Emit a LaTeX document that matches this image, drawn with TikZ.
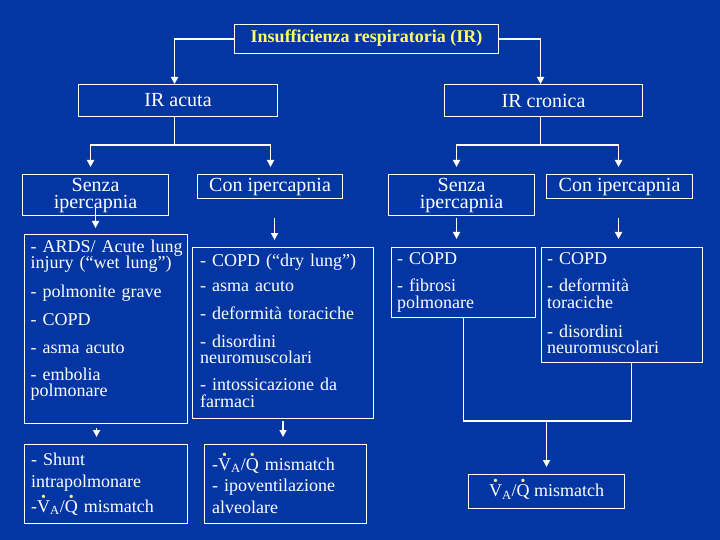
\documentclass[tikz,border=0pt]{standalone}
\usepackage{fontspec}
\setmainfont{Liberation Serif}
\usepackage{tikz}
\usetikzlibrary{arrows.meta,calc,positioning}
\definecolor{slideblue}{HTML}{0336A2}
\definecolor{titleyellow}{HTML}{FFFF66}
\definecolor{dotyellow}{HTML}{F2F28A}
\newcommand{\topdot}[1]{\leavevmode\ooalign{#1\cr\hidewidth\smash{\raisebox{11pt}{\textcolor{dotyellow}{\fontsize{14}{14}\selectfont\textbullet}}}\hidewidth\cr}}
\newcommand{\VQ}{\topdot{V}\textsubscript{A}/\topdot{Q}}

\begin{document}
\begin{tikzpicture}[x=1pt,y=-1pt,
    box/.style={draw=white,line width=1.1pt,inner sep=0pt,anchor=north west},
    head/.style={text=white,font=\fontsize{20}{17}\selectfont,align=center},
    list/.style={text=white,font=\fontsize{18}{16.5}\selectfont,text width=185pt,
      align=left,inner sep=0pt,anchor=base west},
    mech/.style={list,font=\fontsize{18}{22}\selectfont},
    wire/.style={white,line width=1.6pt},
    arr/.style={wire,-{Triangle[width=7pt,length=7pt]}}]
    \useasboundingbox (0,0) rectangle (720,540);
    \fill[slideblue] (0,0) rectangle (720,540);
    % headings
    \node[box,minimum width=264pt,minimum height=29pt,text=titleyellow,text depth=6pt,
      font=\bfseries\fontsize{18}{18}\selectfont] (ir) at (234,24) {Insufficienza respiratoria (IR)};
    \node[box,head,minimum width=199pt,minimum height=32pt] (acuta) at (78,84) {IR acuta};
    \node[box,head,minimum width=198pt,minimum height=32pt] (cronica) at (444,84) {IR cronica};
    \node[box,head,minimum width=146pt,minimum height=41pt] (senzaA) at (22,174) {Senza\\ipercapnia};
    \node[box,head,minimum width=145pt,minimum height=24pt] (conA) at (197,174) {Con ipercapnia};
    \node[box,head,minimum width=146pt,minimum height=41pt] (senzaC) at (388,174) {Senza\\ipercapnia};
    \node[box,head,minimum width=146pt,minimum height=24pt] (conC) at (546,174) {Con ipercapnia};
    % lists of causes
    \node[box,minimum width=163pt,minimum height=189pt] (listA1) at (24,234) {};
    \node[box,minimum width=181pt,minimum height=171pt] (listA2) at (192,247) {};
    \node[box,minimum width=144pt,minimum height=70pt] (listC1) at (391,247) {};
    \node[box,minimum width=161pt,minimum height=115pt] (listC2) at (541,247) {};
    \node[list] (tA1) at ($(listA1.north west)+(6.5,18)$) {- ARDS/ Acute lung\\injury (“wet lung”)\\[12pt]
      - polmonite grave\\[11.5pt] - COPD\\[11.5pt] - asma acuto\\[10.5pt] - embolia\\polmonare};
    \node[list] (tA2) at ($(listA2.north west)+(8,19)$) {- COPD (“dry lung”)\\[8.5pt]
      - asma acuto\\[11.5pt] - deformità toraciche\\[11.5pt] - disordini\\neuromuscolari\\[10.5pt]
      - intossicazione da\\farmaci};
    \node[list] (tC1) at ($(listC1.north west)+(6,17)$) {- COPD\\[11.5pt] - fibrosi\\polmonare};
    \node[list] (tC2) at ($(listC2.north west)+(6,17)$) {- COPD\\[11.5pt] - deformità\\toraciche\\[12pt]
      - disordini\\neuromuscolari};
    % mechanisms
    \node[box,minimum width=163pt,minimum height=79pt] (mechA1) at (24,444) {};
    \node[box,minimum width=162pt,minimum height=79pt] (mechA2) at (204,444) {};
    \node[box,minimum width=156pt,minimum height=34pt,text=white,
      font=\fontsize{18}{18}\selectfont] (mechC) at (468,474) {\VQ{} mismatch};
    \node[mech] (tM1) at ($(mechA1.north west)+(7,21)$) {- Shunt\\intrapolmonare\\[3pt] -\VQ{} mismatch};
    \node[mech,font=\fontsize{18}{21.5}\selectfont] (tM2) at ($(mechA2.north west)+(8,26)$)
      {-\VQ{} mismatch\\- ipoventilazione\\alveolare};
    % connectors
    \draw[arr] (ir.west) -| ($(acuta.north)+(-3.5,0)$);
    \draw[arr] (ir.east) -| ($(cronica.north)+(-3,0)$);
    \coordinate (jA) at ($(acuta.south)+(-3.5,28)$);
    \coordinate (jC) at ($(cronica.south)+(-3,28)$);
    \draw[wire] (acuta.south -| jA) -- (jA);
    \draw[wire] (cronica.south -| jC) -- (jC);
    \draw[arr] (jA) -| ($(senzaA.north)+(-5,-7)$);
    \draw[arr] (jA) -| ($(conA.north)+(0.5,-7)$);
    \draw[arr] (jC) -| ($(senzaC.north)+(-5,-7)$);
    \draw[arr] (jC) -| ($(conC.north)+(-1,-7)$);
    \draw[arr] ($(senzaA.south)+(0,-8)$) -- ($(senzaA.south |- listA1.north)+(0,-6)$);
    \draw[arr] ($(conA.south)+(4.5,19)$) -- ($(conA.south |- listA2.north)+(4.5,-7)$);
    \draw[arr] ($(senzaC.south)+(-5,2)$) -- ($(senzaC.south |- listC1.north)+(-5,-8)$);
    \draw[arr] ($(conC.south)+(-1,19)$) -- ($(conC.south |- listC2.north)+(-1,-8)$);
    \draw[arr] ($(listA1.south)+(-9.5,4)$) -- ($(listA1.south |- mechA1.north)+(-9.5,-7)$);
    \draw[arr] ($(listA2.south)+(0,2)$) -- ($(listA2.south |- mechA2.north)+(0,-7)$);
    \draw[wire] (listC1.south) |- ($(listC2.south)+(9.5,58)$) -- ($(listC2.south)+(9.5,0)$);
    \draw[arr] ($(mechC.north)+(0,-54)$) -- ($(mechC.north)+(0,-7)$);
\end{tikzpicture}
\end{document}
